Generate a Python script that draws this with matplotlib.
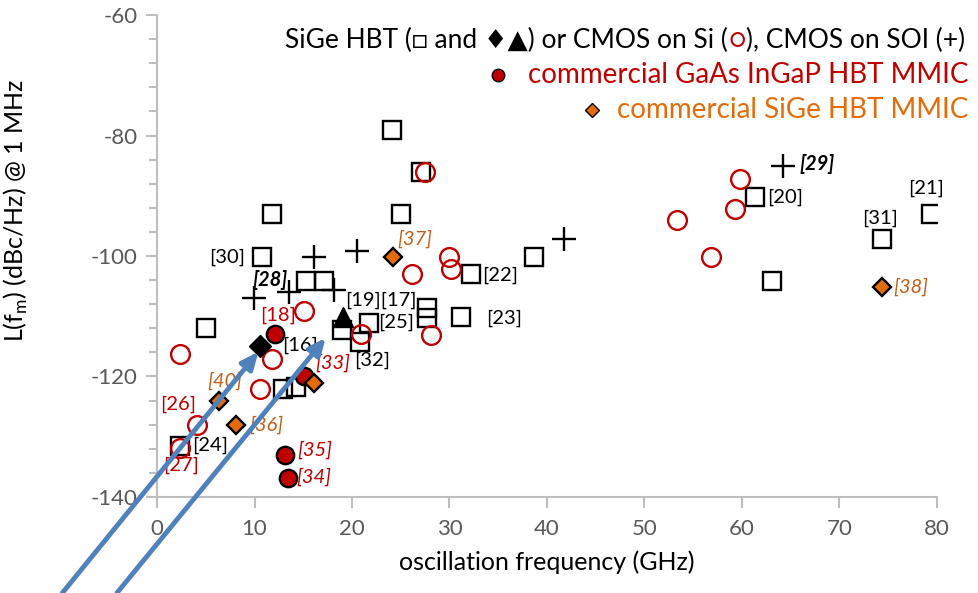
import matplotlib.pyplot as plt
from matplotlib.ticker import MultipleLocator, FuncFormatter

plt.rcParams['font.family'] = ['Lato', 'DejaVu Sans']

# SiGe HBT (open squares)
sq_x = [11.8, 10.8, 24.1, 27.1, 25.0, 15.3, 17.1, 5.0, 19.0, 21.7, 20.8, 27.7, 27.7,
        31.2, 32.2, 38.7, 12.9, 14.3, 2.4, 61.3, 63.1, 79.4, 74.4]
sq_y = [-93.0, -100.1, -79.1, -86.1, -93.1, -104.1, -104.1, -112.0, -112.3, -111.1, -114.2, -108.7, -110.3,
        -110.1, -103.0, -100.1, -122.1, -121.7, -131.5, -90.2, -104.1, -93.1, -97.2]

# CMOS on Si (open red circles)
ci_x = [27.5, 29.9, 30.2, 26.2, 28.1, 20.9, 15.1, 2.4, 11.8, 10.6, 4.1, 2.4, 59.8, 59.3, 53.3, 56.8]
ci_y = [-86.1, -100.1, -102.2, -103.0, -113.1, -113.0, -109.1, -116.2, -117.1, -122.1, -128.0, -131.8,
        -87.2, -92.2, -94.1, -100.1]

# CMOS on SOI (+)
pl_x = [16.1, 20.5, 9.9, 13.5, 18.2, 41.7, 64.2]
pl_y = [-100.1, -99.1, -107.0, -105.9, -105.6, -97.2, -85.1]

# commercial GaAs InGaP HBT MMIC
gaas_x = [12.1, 15.1, 13.1, 13.4]
gaas_y = [-113.0, -120.0, -133.0, -136.8]

# commercial SiGe HBT MMIC
sige_x = [24.2, 16.1, 6.4, 8.1, 74.4]
sige_y = [-100.1, -121.0, -124.1, -128.0, -105.1]

# highlighted SiGe points
dia_x, dia_y = [10.6], [-114.9]
tri_x, tri_y = [19.1], [-110.2]

# reference labels: text, x, y, colour, style, weight, ha
RED = '#C00000'
BROWN = '#C0601A'
labels = [
    ('[30]', 9.0, -100.2, 'black', 'normal', 'normal', 'right'),
    ('[28]', 11.6, -104.0, 'black', 'italic', 'bold', 'center'),
    ('[18]', 12.4, -109.8, RED, 'normal', 'normal', 'center'),
    ('[16]', 12.8, -114.9, 'black', 'normal', 'normal', 'left'),
    ('[19][17]', 19.3, -107.3, 'black', 'normal', 'normal', 'left'),
    ('[25]', 22.7, -111.0, 'black', 'normal', 'normal', 'left'),
    ('[32]', 20.2, -117.3, 'black', 'normal', 'normal', 'left'),
    ('[33]', 16.2, -117.8, RED, 'italic', 'normal', 'left'),
    ('[22]', 33.3, -103.2, 'black', 'normal', 'normal', 'left'),
    ('[23]', 33.8, -110.3, 'black', 'normal', 'normal', 'left'),
    ('[37]', 24.6, -97.2, BROWN, 'italic', 'normal', 'left'),
    ('[40]', 5.2, -120.7, BROWN, 'italic', 'normal', 'left'),
    ('[26]', 0.3, -124.7, RED, 'normal', 'normal', 'left'),
    ('[36]', 9.5, -128.0, BROWN, 'italic', 'normal', 'left'),
    ('[24]', 3.6, -131.5, 'black', 'normal', 'normal', 'left'),
    ('[27]', 0.6, -134.7, RED, 'normal', 'normal', 'left'),
    ('[35]', 14.4, -132.2, RED, 'italic', 'normal', 'left'),
    ('[34]', 14.3, -136.7, RED, 'italic', 'normal', 'left'),
    ('[29]', 65.9, -84.7, 'black', 'italic', 'bold', 'left'),
    ('[20]', 62.6, -90.2, 'black', 'normal', 'normal', 'left'),
    ('[21]', 77.0, -88.7, 'black', 'normal', 'normal', 'left'),
    ('[31]', 72.3, -93.7, 'black', 'normal', 'normal', 'left'),
    ('[38]', 75.5, -105.1, BROWN, 'italic', 'normal', 'left'),
]

fig = plt.figure(figsize=(9.79, 5.93), dpi=100)
ax = fig.add_axes([0.1604, 0.1619, 0.7966, 0.8128])

ax.plot(sq_x, sq_y, 's', ms=13, mfc='none', mec='black', mew=1.7, zorder=3)
ax.plot(ci_x, ci_y, 'o', ms=13.5, mfc='none', mec=RED, mew=1.7, zorder=3)
ax.plot(pl_x, pl_y, '+', ms=17, mec='black', mew=1.7, zorder=3)
ax.plot(gaas_x, gaas_y, 'o', ms=12.5, mfc=RED, mec='black', mew=1.7, zorder=4)
ax.plot(sige_x, sige_y, 'D', ms=9, mfc='#E36C09', mec='black', mew=1.7, zorder=4)
ax.plot(dia_x, dia_y, 'D', ms=11.5, mfc='black', mec='black', zorder=4)
ax.plot(tri_x, tri_y, '^', ms=15, mfc='black', mec='black', zorder=4)

for txt, x, y, c, st, w, ha in labels:
    ax.text(x, y, txt, color=c, style=st, weight=w, ha=ha, va='center', fontsize=14.5, zorder=5)

# blue arrows coming in from below the plot
for tail, head in [((-9.7, -155.9), (10.4, -115.9)), ((-4.1, -155.9), (17.3, -113.6))]:
    ax.annotate('', xy=head, xytext=tail, annotation_clip=False, zorder=6,
                arrowprops=dict(arrowstyle='-|>,head_length=1.0,head_width=0.45',
                                color='#4F81BD', lw=3.5, shrinkA=0, shrinkB=0))

ax.set_xlim(0, 80)
ax.set_ylim(-140, -60)
ax.xaxis.set_major_locator(MultipleLocator(10))
ax.yaxis.set_major_locator(MultipleLocator(20))
ax.yaxis.set_minor_locator(MultipleLocator(4))
ax.yaxis.set_major_formatter(FuncFormatter(lambda v, p: f'{v:.0f}'.replace('\u2212', '-')))
for s in ['top', 'right']:
    ax.spines[s].set_visible(False)
for s in ['left', 'bottom']:
    ax.spines[s].set_color('#BFBFBF')
    ax.spines[s].set_linewidth(1.5)
ax.tick_params(axis='both', colors='#BFBFBF', labelcolor='#595959', labelsize=16, width=1.5)
ax.tick_params(axis='x', direction='out', length=8, pad=8)
ax.tick_params(axis='y', which='major', direction='out', length=8, pad=6)
ax.tick_params(axis='y', which='minor', direction='out', length=6, width=1.5, colors='#BFBFBF')

ax.set_xlabel('oscillation frequency (GHz)', fontsize=18, labelpad=8)
ax.set_ylabel('L(f$_\\mathregular{m}$) (dBc/Hz) @ 1 MHz', fontsize=18)
ax.yaxis.set_label_coords(-0.163, 0.595)

# inline legend text
t3 = ax.text(1.036, 0.948, '), CMOS on SOI (+)', transform=ax.transAxes, ha='right', va='center', fontsize=19)
t2 = ax.annotate('○', xy=(0, 0.5), xycoords=t3, ha='right', va='center', fontsize=19, color=RED)
ax.annotate('SiGe HBT (□ and ♦▲) or CMOS on Si (', xy=(0, 0.5), xycoords=t2, ha='right', va='center', fontsize=19)
ax.text(1.04, 0.876, 'commercial GaAs InGaP HBT MMIC', transform=ax.transAxes, ha='right', va='center',
        fontsize=20, color=RED)
ax.plot([0.437], [0.876], 'o', ms=9, mfc=RED, mec='black', mew=1, transform=ax.transAxes, clip_on=False)
ax.text(1.04, 0.803, 'commercial SiGe HBT MMIC', transform=ax.transAxes, ha='right', va='center',
        fontsize=20, color='#E46C0A')
ax.plot([0.558], [0.803], 'D', ms=7.5, mfc='#E36C09', mec='black', mew=1, transform=ax.transAxes, clip_on=False)

fig.savefig('out.png', dpi=100)
